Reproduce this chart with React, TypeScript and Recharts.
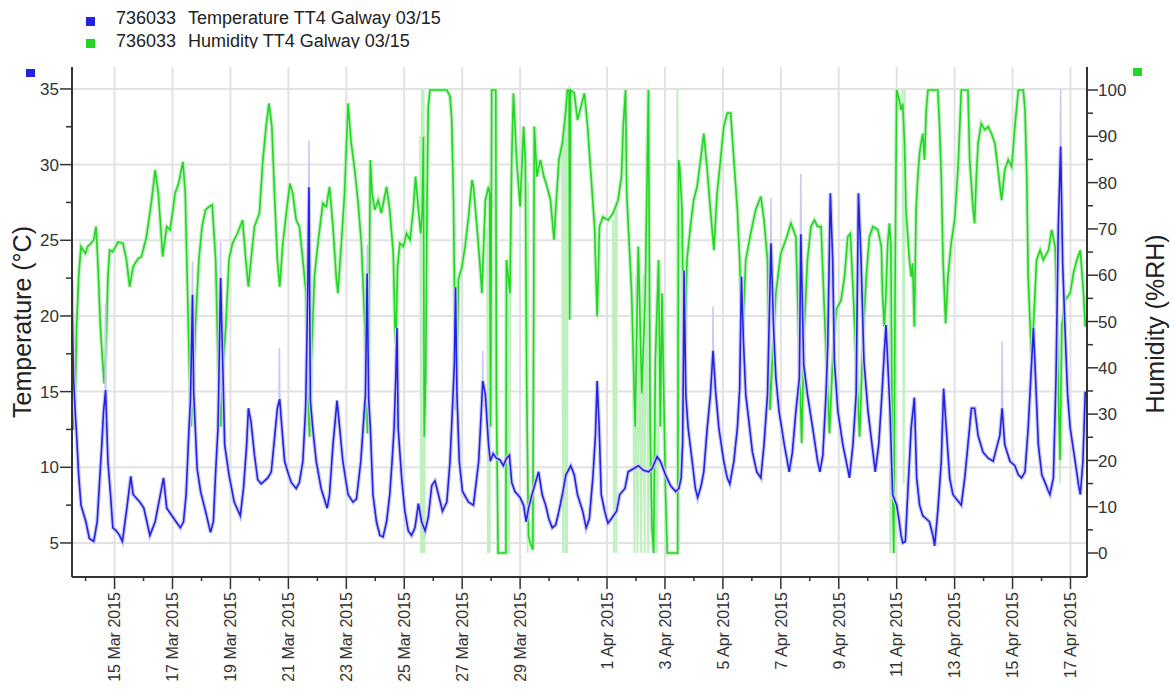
import React from "react";
import { LineChart, Line, XAxis, YAxis, CartesianGrid } from "recharts";

// ---- Data (day 0 = 15 Mar 2015 00:00) ----
const tempDays = [
  -1.48, -1.42, -1.36, -1.31, -1.24, -1.16, -0.99, -0.87, -0.72, -0.6, -0.52, -0.44, -0.38, -0.31, -0.23, -0.14, -0.06,
  0.06, 0.17, 0.27, 0.41, 0.56, 0.64, 0.87, 1.01, 1.22, 1.4, 1.55, 1.69, 1.8, 1.98, 2.27, 2.38, 2.47, 2.57, 2.62, 2.69,
  2.73, 2.85, 2.97, 3.14, 3.31, 3.41, 3.49, 3.57, 3.6, 3.66, 3.76, 3.8, 3.95, 4.13, 4.34, 4.45, 4.56, 4.62, 4.71, 4.83,
  4.94, 5.06, 5.29, 5.41, 5.5, 5.62, 5.7, 5.76, 5.87, 6.01, 6.1, 6.27, 6.38, 6.5, 6.59, 6.61, 6.67, 6.71, 6.74, 6.76,
  6.84, 6.96, 7.13, 7.34, 7.42, 7.54, 7.68, 7.77, 7.88, 8.06, 8.23, 8.35, 8.5, 8.58, 8.66, 8.72, 8.77, 8.83, 8.92, 9.04,
  9.16, 9.27, 9.39, 9.5, 9.58, 9.65, 9.71, 9.75, 9.79, 9.91, 10.02, 10.14, 10.25, 10.37, 10.49, 10.6, 10.72, 10.83,
  10.95, 11.06, 11.18, 11.32, 11.47, 11.58, 11.66, 11.73, 11.77, 11.82, 11.9, 12.01, 12.22, 12.39, 12.57, 12.66, 12.71,
  12.8, 12.91, 12.97, 13.07, 13.18, 13.3, 13.42, 13.53, 13.63, 13.71, 13.82, 14.0, 14.12, 14.21, 14.29, 14.41, 14.53,
  14.64, 14.76, 14.88, 14.99, 15.11, 15.23, 15.34, 15.46, 15.58, 15.75, 15.87, 15.98, 16.16, 16.28, 16.39, 16.51, 16.6,
  16.66, 16.73, 16.8, 16.92, 17.03, 17.15, 17.33, 17.44, 17.62, 17.73, 17.91, 18.08, 18.26, 18.43, 18.55, 18.73, 18.84,
  19.02, 19.19, 19.37, 19.48, 19.56, 19.61, 19.64, 19.66, 19.72, 19.8, 19.94, 20.05, 20.13, 20.25, 20.34, 20.46, 20.57,
  20.66, 20.75, 20.86, 21.03, 21.15, 21.24, 21.38, 21.5, 21.58, 21.64, 21.71, 21.79, 21.9, 22.02, 22.17, 22.31, 22.42,
  22.54, 22.66, 22.75, 22.83, 22.94, 23.12, 23.29, 23.4, 23.52, 23.64, 23.69, 23.79, 23.92, 24.1, 24.27, 24.35, 24.45,
  24.56, 24.62, 24.71, 24.79, 24.85, 24.97, 25.14, 25.31, 25.37, 25.49, 25.6, 25.68, 25.77, 25.87, 26.01, 26.18, 26.26,
  26.38, 26.49, 26.57, 26.63, 26.69, 26.77, 26.86, 27.0, 27.09, 27.15, 27.21, 27.3, 27.38, 27.5, 27.61, 27.69, 27.79,
  27.9, 28.02, 28.13, 28.25, 28.31, 28.42, 28.54, 28.62, 28.71, 28.83, 28.94, 29.06, 29.23, 29.35, 29.46, 29.58, 29.69,
  29.81, 29.98, 30.16, 30.33, 30.45, 30.56, 30.64, 30.73, 30.91, 31.08, 31.2, 31.31, 31.43, 31.54, 31.66, 31.72, 31.77,
  31.89, 32.01, 32.12, 32.24, 32.29, 32.41, 32.5, 32.58, 32.66, 32.73, 32.81, 32.9, 32.99, 33.16, 33.28, 33.34, 33.43,
  33.51,
];
const tempValues = [
  22.4, 16.1, 13.7, 12.1, 9.5, 7.5, 6.4, 5.3, 5.1, 6.4, 9.0, 11.5, 13.7, 15.1, 10.4, 8.2, 6.0,
  5.8, 5.5, 5.1, 7.1, 9.4, 8.2, 7.7, 7.3, 5.5, 6.4, 7.9, 9.3, 7.3, 6.8, 6.0, 6.4, 8.2, 12.6, 14.4, 21.4,
  15.0, 9.9, 8.4, 7.1, 5.7, 6.4, 9.7, 12.6, 15.7, 22.5, 14.8, 11.5, 9.5, 7.7, 6.8, 8.6, 11.5, 13.9, 13.0, 10.8,
  9.2, 8.9, 9.3, 9.7, 11.5, 13.9, 14.5, 13.0, 10.4, 9.5, 9.0, 8.6, 9.0, 10.4, 13.7, 15.1, 22.0, 28.5, 20.0, 14.4,
  12.6, 10.4, 8.6, 7.3, 8.2, 11.5, 14.4, 12.6, 10.4, 8.2, 7.7, 7.9, 10.4, 12.6, 14.8, 22.8, 14.6, 12.6, 8.2, 6.4,
  5.5, 5.4, 6.4, 8.2, 10.4, 12.6, 16.1, 19.2, 12.6, 9.3, 7.1, 5.8, 5.5, 6.0, 7.6, 6.4, 5.8, 6.7,
  8.8, 9.1, 8.2, 7.1, 7.7, 10.4, 13.7, 16.8, 21.9, 14.8, 10.4, 8.4, 7.7, 7.5, 10.4, 13.7, 15.7,
  14.8, 11.5, 10.4, 10.9, 10.6, 10.5, 10.1, 10.6, 10.8, 9.0, 8.4, 8.0, 7.5, 6.4, 7.3, 8.2, 9.0,
  9.7, 8.2, 7.5, 6.6, 6.0, 6.2, 7.1, 8.2, 9.5, 10.1, 9.5, 8.2, 7.1, 6.0, 6.6, 9.3, 12.1,
  15.7, 12.6, 8.2, 7.1, 6.3, 6.6, 7.1, 8.2, 8.6, 9.7, 9.9, 10.1, 9.8, 9.7, 9.9, 10.7, 10.4,
  9.5, 8.8, 8.4, 8.6, 9.3, 11.5, 17.5, 23.0, 14.8, 12.6, 10.4, 8.6, 8.0, 8.8, 9.7, 12.6, 14.8,
  17.7, 15.0, 12.6, 10.4, 9.3, 8.9, 10.4, 12.6, 15.2, 22.6, 18.3, 14.8, 13.0, 11.0, 9.7, 9.3, 11.5,
  14.8, 24.8, 19.2, 15.9, 13.7, 11.5, 9.7, 11.0, 13.7, 15.9, 25.4, 16.8, 14.8, 12.6, 10.4, 9.7, 10.8,
  14.8, 18.1, 28.1, 23.7, 17.0, 13.7, 11.5, 9.9, 9.3, 11.5, 14.8, 28.1, 23.7, 17.0, 13.7, 11.0, 9.7,
  11.5, 14.8, 17.5, 19.4, 17.0, 13.7, 8.2, 7.5, 6.4, 5.5, 5.0, 5.1, 8.2, 12.6, 14.6, 9.3, 7.5,
  6.8, 6.6, 6.4, 5.5, 4.8, 7.1, 10.4, 15.2, 12.6, 9.3, 8.2, 7.9, 7.5, 9.3, 11.5, 13.9, 13.9,
  12.1, 11.0, 10.6, 10.4, 11.3, 12.1, 13.9, 11.5, 10.4, 10.1, 9.5, 9.3, 9.7, 12.6, 17.0, 19.2, 17.0,
  11.5, 9.5, 9.0, 8.4, 8.2, 9.3, 15.9, 25.9, 31.2, 23.5, 19.2, 14.8, 12.6, 10.4, 8.8, 8.2, 10.4,
  15.0,
];

// light "max" excursions of the temperature trace (null = gap)
const tempPaleDays = [
  -0.33, -0.31, -0.29, -0.28, 2.67, 2.69, 2.71, 2.72, 3.64, 3.66, 3.68, 3.69, 5.67, 5.69, 5.71, 5.72, 6.69, 6.71, 6.73,
  6.74, 8.7, 8.72, 8.74, 8.75, 12.69, 12.71, 12.73, 12.74, 20.64, 20.66, 20.68, 20.69, 22.64, 22.66, 22.68, 22.69, 23.67,
  23.69, 23.71, 23.72, 30.62, 30.64, 30.66, 30.67, 32.64, 32.66, 32.68,
];
const tempPaleValues = [
  14, 20.8, 14, null, 18, 23.6, 18, null, 20, 24.9, 20, null, 13.5, 17.9, 13.5, null, 25, 31.6, 25,
  null, 20, 24.7, 20, null, 14, 17.7, 14, null, 16, 20.6, 16, null, 23, 27.8, 23, null, 24,
  29.4, 24, null, 13, 18.3, 13, null, 29, 35, 29,
];

const humDays = [
  -1.48, -1.42, -1.36, -1.31, -1.24, -1.16, -1.01, -0.93, -0.81, -0.72, -0.64, -0.57, -0.49, -0.43, -0.36, -0.29, -0.23,
  -0.17, -0.06, 0.12, 0.29, 0.41, 0.52, 0.64, 0.81, 0.93, 1.1, 1.28, 1.4, 1.51, 1.63, 1.66, 1.8, 1.92, 2.09, 2.21, 2.36,
  2.44, 2.52, 2.59, 2.64, 2.71, 2.79, 2.91, 3.02, 3.14, 3.26, 3.37, 3.49, 3.57, 3.66, 3.76, 3.84, 3.95, 4.07, 4.24, 4.42,
  4.53, 4.62, 4.71, 4.83, 5.0, 5.12, 5.23, 5.33, 5.43, 5.52, 5.62, 5.7, 5.81, 5.93, 6.05, 6.15, 6.27, 6.38, 6.5, 6.61,
  6.67, 6.73, 6.79, 6.9, 7.02, 7.19, 7.31, 7.42, 7.54, 7.65, 7.71, 7.83, 7.94, 8.06, 8.17, 8.29, 8.4, 8.52, 8.64, 8.69,
  8.73, 8.77, 8.83, 8.89, 8.98, 9.1, 9.21, 9.39, 9.5, 9.62, 9.68, 9.71, 9.77, 9.85, 9.97, 10.08, 10.2, 10.31, 10.39,
  10.49, 10.57, 10.62, 10.66, 10.69, 10.74, 10.79, 10.83, 10.89, 11.47, 11.58, 11.64, 11.7, 11.76, 11.79, 11.87, 11.99,
  12.1, 12.22, 12.34, 12.39, 12.51, 12.62, 12.68, 12.8, 12.91, 12.95, 12.98, 13.02, 13.16, 13.18, 13.24, 13.51, 13.53,
  13.65, 13.71, 13.77, 13.88, 14.0, 14.12, 14.18, 14.23, 14.29, 14.35, 14.44, 14.49, 14.58, 14.7, 14.82, 14.93, 15.05,
  15.17, 15.23, 15.34, 15.46, 15.58, 15.63, 15.69, 15.71, 15.74, 15.87, 15.98, 16.1, 16.22, 16.33, 16.45, 16.57, 16.66,
  16.74, 16.86, 17.04, 17.21, 17.38, 17.5, 17.56, 17.64, 17.68, 17.85, 17.97, 18.03, 18.08, 18.2, 18.32, 18.43, 18.49,
  18.55, 18.61, 18.67, 18.78, 18.84, 18.9, 19.02, 19.08, 19.44, 19.47, 19.51, 19.59, 19.62, 19.67, 19.71, 19.76, 19.88,
  19.99, 20.11, 20.23, 20.34, 20.46, 20.57, 20.69, 20.8, 20.92, 21.03, 21.15, 21.27, 21.38, 21.5, 21.58, 21.67, 21.79,
  21.96, 22.13, 22.31, 22.42, 22.54, 22.63, 22.71, 22.83, 23.0, 23.17, 23.35, 23.52, 23.64, 23.72, 23.81, 23.92, 24.04,
  24.16, 24.27, 24.39, 24.48, 24.62, 24.68, 24.79, 24.91, 25.08, 25.2, 25.31, 25.4, 25.49, 25.6, 25.72, 25.83, 25.95,
  26.06, 26.18, 26.35, 26.47, 26.51, 26.57, 26.63, 26.69, 26.75, 26.8, 26.86, 26.9, 26.95, 27.0, 27.09, 27.15, 27.21,
  27.27, 27.32, 27.44, 27.5, 27.55, 27.61, 27.67, 27.73, 27.79, 27.84, 27.9, 27.96, 28.02, 28.08, 28.42, 28.48, 28.54,
  28.6, 28.69, 28.77, 28.88, 29.0, 29.12, 29.23, 29.46, 29.52, 29.64, 29.69, 29.75, 29.81, 29.92, 30.04, 30.16, 30.27,
  30.39, 30.5, 30.62, 30.73, 30.85, 30.97, 31.08, 31.2, 31.37, 31.43, 31.49, 31.54, 31.6, 31.66, 31.72, 31.83, 31.95,
  32.06, 32.24, 32.35, 32.47, 32.53, 32.58, 32.64, 32.7, 32.81, 32.99, 33.1, 33.22, 33.34, 33.45, 33.51,
];
const humValues = [
  33.0, 26.6, 34.5, 48.9, 59.7, 66.2, 64.7, 66.2, 66.9, 67.6, 70.5, 61.8, 48.9, 43.1, 36.6, 45.3, 59.7,
  65.4, 65.1, 67.2, 66.9, 63.3, 57.5, 61.8, 63.6, 64.0, 68.3, 76.2, 82.7, 77.7, 66.9, 64.0, 70.5, 69.8, 77.7, 79.8, 84.5,
  77.7, 56.1, 38.1, 27.3, 34.5, 48.9, 63.3, 70.5, 74.1, 74.8, 75.2, 63.3, 41.7, 27.3, 41.7, 48.9, 63.3, 66.9, 69.0, 71.9,
  63.3, 57.5, 63.3, 70.5, 73.4, 84.9, 92.1, 97.1, 92.1, 77.7, 63.3, 57.5, 66.9, 73.4, 79.8, 77.7, 71.9, 70.5, 63.3, 56.1,
  34.5, 25.1, 41.7, 59.7, 66.9, 75.5, 74.8, 79.1, 70.5, 59.7, 56.1, 66.9, 77.7, 97.1, 88.5, 82.7, 76.2, 66.9, 48.9, 34.5,
  25.8, 41.7, 84.9, 77.7, 74.1, 76.2, 73.4, 79.1, 74.1, 64.7, 48.9, 45.3, 61.8, 66.9, 66.2, 69.0, 67.6, 74.1, 81.3,
  74.1, 69.0, 74.1, 89.9, 25.1, 38.1, 77.7, 96.4, 100, 100, 98.6, 93.5, 76.2, 41.7, 30.9, 59.0, 61.8,
  66.2, 72.6, 80.6, 79.1, 70.5, 61.8, 56.1, 76.2, 79.1, 77.7, 27.3, 100, 100, 34.5, 0, 0, 63.3,
  56.1, 84.9, 99.3, 84.9, 74.8, 92.1, 84.9, 34.5, 3.6, 2.2, 0.7, 92.1, 81.3, 84.9, 81.3, 79.1, 76.2,
  67.6, 74.1, 84.9, 88.5, 95.7, 100, 100, 50.4, 100, 99.3, 93.5, 96.4, 99.3, 92.1, 81.3, 70.5, 51.1,
  70.5, 72.6, 71.9, 73.4, 76.2, 81.3, 92.1, 100, 77.7, 56.1, 27.3, 48.9, 66.2, 34.5, 56.1, 100, 27.3,
  5.8, 0, 41.7, 63.3, 27.3, 56.1, 12.9, 0, 0, 84.9, 83.4, 74.1, 56.1, 34.5, 48.9, 63.3, 70.5,
  76.2, 79.1, 84.9, 90.6, 82.7, 74.1, 65.4, 77.7, 84.9, 92.1, 95.0, 95.0, 84.9, 74.1, 63.3, 45.3, 63.3,
  69.0, 74.1, 77.0, 71.9, 63.3, 30.9, 41.7, 56.1, 64.7, 67.6, 71.2, 68.3, 41.7, 23.7, 48.9, 63.3, 70.5,
  71.9, 70.5, 70.5, 56.1, 34.5, 25.8, 41.7, 52.5, 54.6, 59.7, 68.3, 69.0, 57.5, 41.7, 25.1, 45.3, 59.7,
  68.3, 70.5, 69.8, 66.2, 56.1, 48.9, 56.1, 66.9, 71.2, 66.2, 12.9, 0, 63.3, 100, 97.8, 95.7, 97.1,
  88.5, 74.1, 63.3, 59.7, 62.6, 48.9, 74.1, 81.3, 86.3, 88.5, 90.6, 84.9, 95.7, 100, 100, 92.1, 81.3,
  63.3, 49.6, 59.7, 66.9, 71.9, 83.4, 100, 100, 84.9, 74.1, 71.2, 81.3, 88.5, 92.8, 91.4, 92.1, 90.6,
  88.5, 82.7, 76.2, 82.7, 84.9, 83.4, 92.1, 100, 100, 95.7, 81.3, 59.7, 50.3, 41.7, 48.9, 63.3, 65.4,
  63.3, 65.4, 69.8, 66.2, 52.5, 34.5, 20.1, 48.9, 54.6, 56.1, 60.4, 63.3, 65.4, 56.1, 48.9,
];

// light min/max excursions of the humidity trace (null = gap)
const humPaleDays = [
  10.55, 10.58, 10.61, 10.64, 10.67, 10.7, 10.72, 10.73,
  12.86, 12.89, 12.92, 12.95, 12.97, 12.98,
  13.59, 13.62, 13.66, 13.67,
  14.24, 14.26, 14.28, 14.29,
  15.45, 15.48, 15.52, 15.56, 15.59, 15.62, 15.64, 15.65,
  17.2, 17.24, 17.28, 17.32, 17.34, 17.35,
  17.9, 17.95, 18.0, 18.05, 18.12, 18.18, 18.25, 18.3, 18.36, 18.42, 18.5, 18.58, 18.66, 18.72, 18.8, 18.81,
  19.41, 19.43, 19.46, 19.47,
  26.74, 26.78, 26.82, 26.88, 26.9,
  27.2, 27.24, 27.28, 27.29,
  32.6, 32.63, 32.66,
];
const humPaleValues = [
  90, 0, 100, 0, 100, 0, 90, null,
  70, 0, 80, 0, 75, null,
  60, 0, 60, null,
  80, 0, 80, null,
  90, 0, 95, 0, 98, 0, 100, null,
  72, 0, 74, 0, 75, null,
  40, 0, 60, 0, 55, 0, 60, 0, 90, 0, 50, 0, 45, 0, 40, null,
  0, 100, 0, null,
  70, 0, 65, 0, null,
  100, 15, 100, null,
  40, 15, 40,
];

// ---- Axis ticks and labels ----
const dayDomain = [-1.47, 33.57];
const allDays = [
  -1, 0, 1, 2, 3, 4, 5, 6, 7, 8, 9, 10, 11, 12, 13, 14, 15, 16, 17, 18, 19, 20, 21, 22, 23, 24, 25, 26, 27, 28, 29, 30,
  31, 32, 33,
];
const majorDays = [0, 2, 4, 6, 8, 10, 12, 14, 17, 19, 21, 23, 25, 27, 29, 31, 33];
const dateLabels = [
  "15 Mar 2015", "17 Mar 2015", "19 Mar 2015", "21 Mar 2015", "23 Mar 2015", "25 Mar 2015", "27 Mar 2015",
  "29 Mar 2015", "1 Apr 2015", "3 Apr 2015", "5 Apr 2015", "7 Apr 2015", "9 Apr 2015", "11 Apr 2015",
  "13 Apr 2015", "15 Apr 2015", "17 Apr 2015",
];
const tempDomain = [2.75, 36.45];
const tempTicks = [5, 7.5, 10, 12.5, 15, 17.5, 20, 22.5, 25, 27.5, 30, 32.5, 35];
const tempMajor = [5, 10, 15, 20, 25, 30, 35];
const humDomain = [-5.18, 104.97];
const humTicks = [0, 5, 10, 15, 20, 25, 30, 35, 40, 45, 50, 55, 60, 65, 70, 75, 80, 85, 90, 95, 100];
const humMajor = [0, 10, 20, 30, 40, 50, 60, 70, 80, 90, 100];

const legendIds = ["736033", "736033"];
const legendNames = ["Temperature TT4 Galway 03/15", "Humidity TT4 Galway 03/15"];

const tempData = tempDays.map((d, i) => ({ day: d, temp: tempValues[i] }));
const tempPaleData = tempPaleDays.map((d, i) => ({ day: d, temp: tempPaleValues[i] }));
const humData = humDays.map((d, i) => ({ day: d, hum: humValues[i] }));
const humPaleData = humPaleDays.map((d, i) => ({ day: d, hum: humPaleValues[i] }));

const BLUE = "#2222e0";
const GREEN = "#22d622";
const PALE_BLUE = "#cacaf5";
const PALE_GREEN = "#c0f0c0";
const AXIS = "#333333";
const FONT = "'Liberation Sans', Arial, sans-serif";

const LeftTick = (props: any) => {
  const { x, y, payload } = props;
  const v = payload.value;
  const major = tempMajor.includes(v);
  return (
    <g>
      <line x1={x} x2={x - (major ? 12 : 6)} y1={y} y2={y} stroke={AXIS} strokeWidth={1.5} />
      {major && (
        <text x={x - 13} y={y} dy="0.36em" textAnchor="end" fontSize={17} fill="#333" fontFamily={FONT}>
          {v}
        </text>
      )}
    </g>
  );
};

const RightTick = (props: any) => {
  const { x, y, payload } = props;
  const v = payload.value;
  const major = humMajor.includes(v);
  return (
    <g>
      <line x1={x} x2={x + (major ? 11 : 6)} y1={y} y2={y} stroke={AXIS} strokeWidth={1.5} />
      {major && (
        <text x={x + 11} y={y} dy="0.36em" textAnchor="start" fontSize={17} fill="#333" fontFamily={FONT}>
          {v}
        </text>
      )}
    </g>
  );
};

const BottomTick = (props: any) => {
  const { x, y, payload } = props;
  const v = payload.value;
  const idx = majorDays.indexOf(v);
  const major = idx >= 0;
  return (
    <g>
      <line x1={x} x2={x} y1={y} y2={y + (major ? 12 : 4)} stroke={AXIS} strokeWidth={1.5} />
      {major && (
        <text
          transform={`translate(${x}, ${y + 15}) rotate(-90)`}
          dy="0.36em"
          textAnchor="end"
          fontSize={16}
          fill="#333"
          fontFamily={FONT}
        >
          {dateLabels[idx]}
        </text>
      )}
    </g>
  );
};

export default function App() {
  return (
    <div style={{ position: "absolute", left: 0, top: 0, width: 1174, height: 697, background: "#fff" }}>
      <LineChart width={1174} height={697} margin={{ top: 67, right: 25, bottom: 10, left: 10 }}>
        <CartesianGrid
          xAxisId="d"
          yAxisId="t"
          horizontalValues={tempMajor}
          verticalValues={majorDays}
          stroke="#e2e2e2"
          strokeWidth={2}
        />
        <XAxis
          xAxisId="d"
          dataKey="day"
          type="number"
          domain={dayDomain}
          ticks={allDays}
          interval={0}
          allowDataOverflow
          height={110}
          tickSize={0}
          tickMargin={0}
          tick={<BottomTick />}
          axisLine={{ stroke: AXIS, strokeWidth: 2 }}
          tickLine={false}
        />
        <YAxis
          yAxisId="t"
          orientation="left"
          type="number"
          domain={tempDomain}
          ticks={tempTicks}
          interval={0}
          allowDataOverflow
          width={62}
          tickSize={0}
          tickMargin={0}
          tick={<LeftTick />}
          axisLine={{ stroke: AXIS, strokeWidth: 2 }}
          tickLine={false}
        />
        <YAxis
          yAxisId="h"
          orientation="right"
          type="number"
          domain={humDomain}
          ticks={humTicks}
          interval={0}
          allowDataOverflow
          width={62}
          tickSize={0}
          tickMargin={0}
          tick={<RightTick />}
          axisLine={{ stroke: AXIS, strokeWidth: 2 }}
          tickLine={false}
        />
        <Line
          xAxisId="d"
          yAxisId="h"
          data={humPaleData}
          dataKey="hum"
          type="linear"
          stroke={PALE_GREEN}
          strokeWidth={2}
          dot={false}
          connectNulls={false}
          isAnimationActive={false}
        />
        <Line
          xAxisId="d"
          yAxisId="h"
          data={humData}
          dataKey="hum"
          type="linear"
          stroke={PALE_GREEN}
          strokeWidth={4}
          dot={false}
          isAnimationActive={false}
        />
        <Line
          xAxisId="d"
          yAxisId="h"
          data={humData}
          dataKey="hum"
          type="linear"
          stroke={GREEN}
          strokeWidth={1.6}
          dot={false}
          isAnimationActive={false}
        />
        <Line
          xAxisId="d"
          yAxisId="t"
          data={tempPaleData}
          dataKey="temp"
          type="linear"
          stroke={PALE_BLUE}
          strokeWidth={1.6}
          dot={false}
          connectNulls={false}
          isAnimationActive={false}
        />
        <Line
          xAxisId="d"
          yAxisId="t"
          data={tempData}
          dataKey="temp"
          type="linear"
          stroke={PALE_BLUE}
          strokeWidth={4}
          dot={false}
          isAnimationActive={false}
        />
        <Line
          xAxisId="d"
          yAxisId="t"
          data={tempData}
          dataKey="temp"
          type="linear"
          stroke={BLUE}
          strokeWidth={1.6}
          dot={false}
          isAnimationActive={false}
        />
      </LineChart>
      <svg
        width={1174}
        height={697}
        style={{ position: "absolute", left: 0, top: 0, pointerEvents: "none" }}
        fontFamily={FONT}
      >
        <defs>
          <clipPath id="legClip2">
            <rect x={0} y={28} width={600} height={20.5} />
          </clipPath>
        </defs>
        <rect x={86} y={17} width={9} height={9} fill={BLUE} />
        <text x={116} y={24} fontSize={18} fill="#222">{legendIds[0]}</text>
        <text x={188} y={24} fontSize={18} fill="#222">{legendNames[0]}</text>
        <rect x={86} y={39} width={9} height={9} fill={GREEN} />
        <g clipPath="url(#legClip2)">
          <text x={116} y={47} fontSize={18} fill="#222">{legendIds[1]}</text>
          <text x={188} y={47} fontSize={18} fill="#222">{legendNames[1]}</text>
        </g>
        <rect x={26} y={69} width={9} height={8} fill={BLUE} />
        <rect x={1133} y={68} width={9} height={8} fill={GREEN} />
        <text
          transform="translate(22, 322) rotate(-90)"
          textAnchor="middle"
          dy="0.35em"
          fontSize={25}
          fill="#222"
        >
          Temperature (°C)
        </text>
        <text
          transform="translate(1155, 324) rotate(-90)"
          textAnchor="middle"
          dy="0.35em"
          fontSize={25}
          fill="#222"
        >
          Humidity (%RH)
        </text>
      </svg>
    </div>
  );
}
